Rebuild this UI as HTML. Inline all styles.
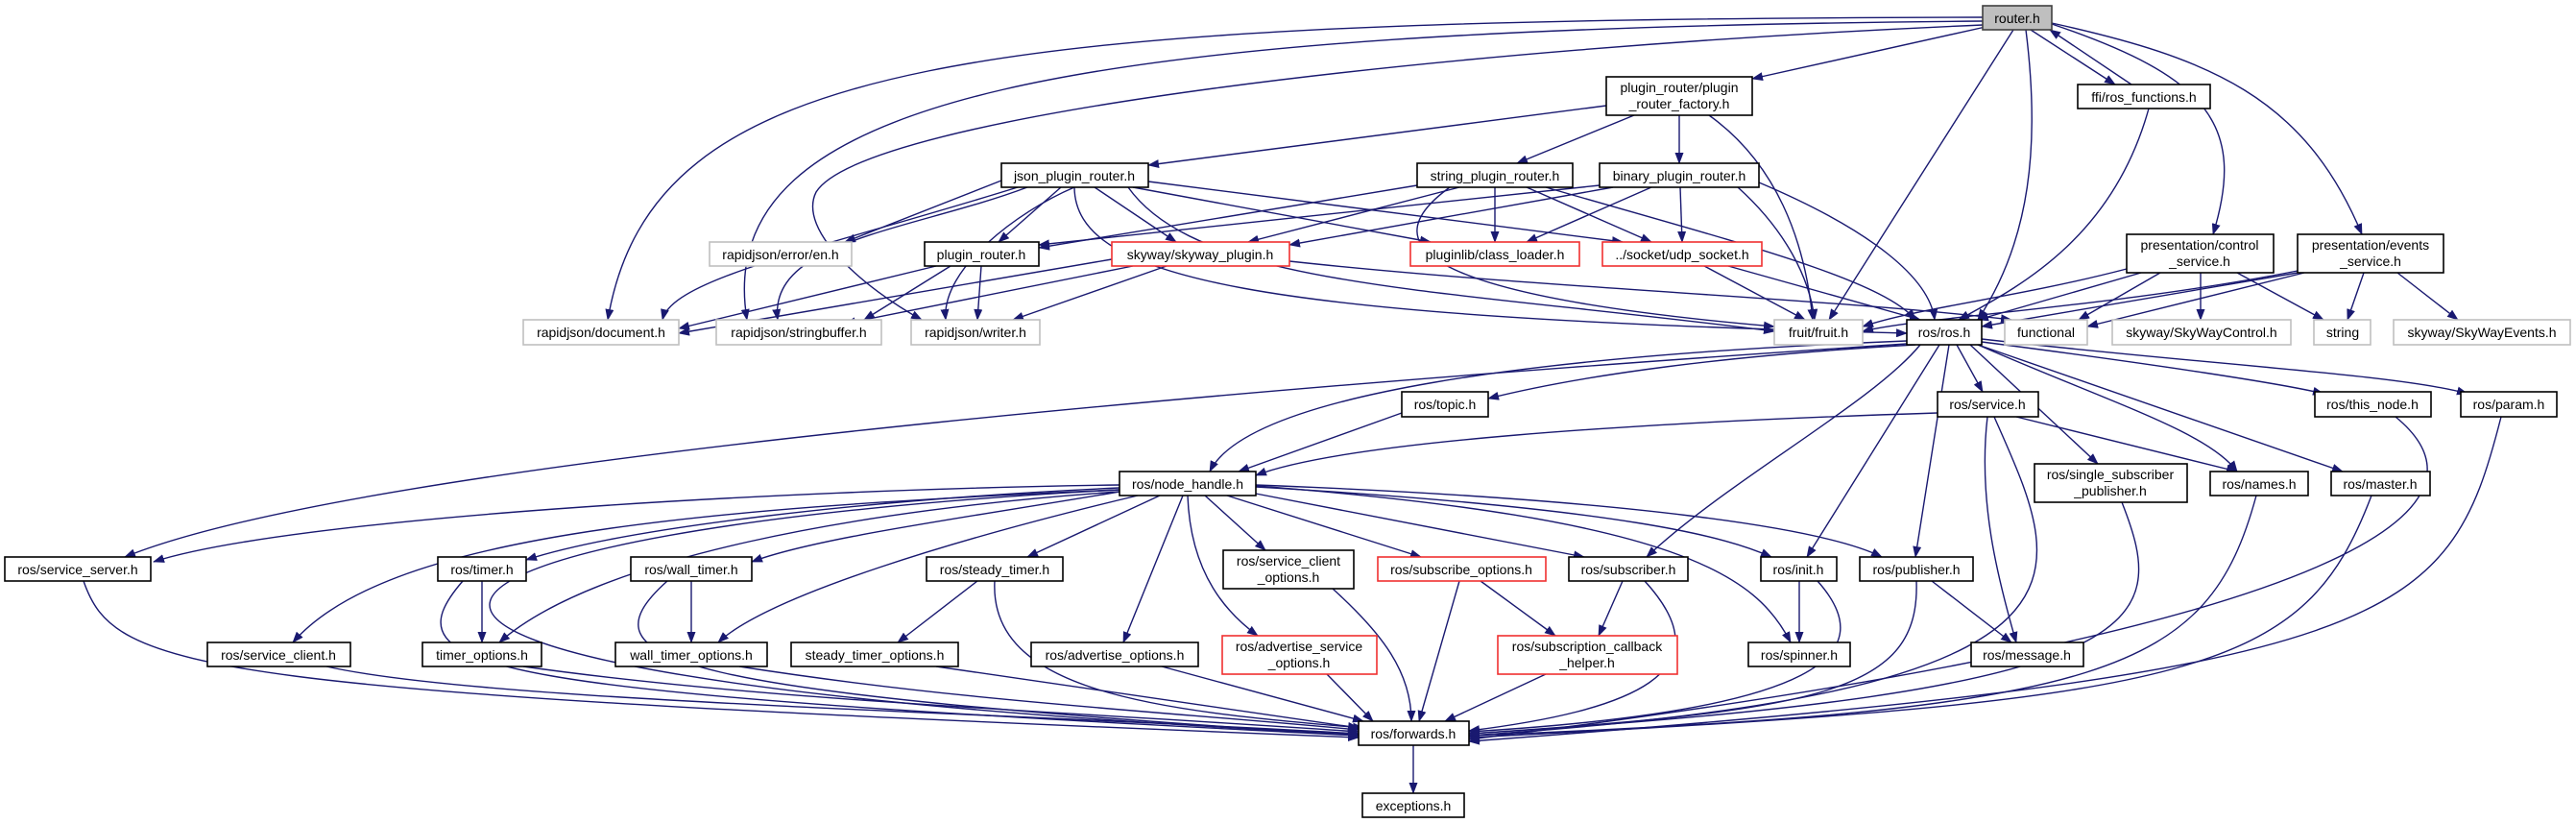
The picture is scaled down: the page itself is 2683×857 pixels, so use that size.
<!DOCTYPE html>
<html><head><meta charset="utf-8"><style>
html,body{margin:0;padding:0;background:#fff;}
svg{display:block;}
text{font-family:"Liberation Sans",sans-serif;font-size:14px;fill:#000;}
.e{fill:none;stroke:#191970;stroke-width:1.4;marker-end:url(#a);}
.n{fill:#fff;stroke:#000;stroke-width:1.6;}
.r{fill:#fff;stroke:#f03030;stroke-width:1.6;}
.g{fill:#fff;stroke:#bfbfbf;stroke-width:1.6;}
</style></head><body>
<svg width="2683" height="857" viewBox="0 0 2683 857" xmlns="http://www.w3.org/2000/svg">
<defs><marker id="a" markerUnits="userSpaceOnUse" markerWidth="12" markerHeight="9" refX="11" refY="4.5" orient="auto"><path d="M0,0 L12,4.5 L0,9 z" fill="#191970"/></marker></defs>
<g>
<path class="e" d="M2065 18 C1000 20, 680 60, 633 333"/>
<path class="e" d="M2065 22 C1100 30, 740 100, 778 333"/>
<path class="e" d="M2065 26 C1500 50, 900 120, 850 200 C830 240, 900 300, 960 333"/>
<path class="e" d="M2068 28 L1825 82"/>
<path class="e" d="M2097 31 L1905 333"/>
<path class="e" d="M2110 31 C2125 150, 2115 250, 2060 333"/>
<path class="e" d="M2115 31 L2203 88"/>
<path class="e" d="M2220 88 L2135 31"/>
<path class="e" d="M2137 25 C2300 80, 2340 130, 2305 244"/>
<path class="e" d="M2137 24 C2300 60, 2400 100, 2460 244"/>
<path class="e" d="M1673 110 L1196 172"/>
<path class="e" d="M1702 120 L1580 170"/>
<path class="e" d="M1749 120 L1749 170"/>
<path class="e" d="M1780 120 C1850 170, 1880 250, 1888 333"/>
<path class="e" d="M1060 195 C850 260, 700 290, 690 333"/>
<path class="e" d="M1070 195 C950 240, 800 250, 810 333"/>
<path class="e" d="M1119 195 C1060 220, 980 280, 985 333"/>
<path class="e" d="M1043 188 L880 252"/>
<path class="e" d="M1105 195 L1040 252"/>
<path class="e" d="M1140 195 L1225 252"/>
<path class="e" d="M1180 195 L1490 252"/>
<path class="e" d="M1196 189 L1690 252"/>
<path class="e" d="M1175 195 C1250 300, 1500 300, 1848 345"/>
<path class="e" d="M1119 195 C1120 290, 1300 330, 1986 347"/>
<path class="e" d="M1476 193 L1082 258"/>
<path class="e" d="M1520 195 L1300 252"/>
<path class="e" d="M1557 195 L1557 252"/>
<path class="e" d="M1590 195 L1720 252"/>
<path class="e" d="M1510 195 C1420 260, 1500 310, 1848 340"/>
<path class="e" d="M1610 195 C1800 250, 1960 290, 1995 333"/>
<path class="e" d="M1666 193 L1082 255"/>
<path class="e" d="M1680 195 L1343 255"/>
<path class="e" d="M1720 195 L1590 252"/>
<path class="e" d="M1750 195 L1752 252"/>
<path class="e" d="M1810 195 C1860 240, 1885 290, 1890 333"/>
<path class="e" d="M1832 190 C1950 240, 2010 290, 2015 333"/>
<path class="e" d="M975 277 L707 342"/>
<path class="e" d="M990 277 L900 333"/>
<path class="e" d="M1022 277 L1018 333"/>
<path class="e" d="M1158 270 L707 347"/>
<path class="e" d="M1180 277 L880 337"/>
<path class="e" d="M1215 277 L1055 333"/>
<path class="e" d="M1343 272 C1600 300, 1900 310, 2095 333"/>
<path class="e" d="M1775 277 L1880 333"/>
<path class="e" d="M1800 277 L2000 333"/>
<path class="e" d="M2238 113 C2200 250, 2100 300, 2040 333"/>
<path class="e" d="M2215 280 C2100 310, 2000 320, 1940 340"/>
<path class="e" d="M2230 284 L2060 333"/>
<path class="e" d="M2250 284 L2165 333"/>
<path class="e" d="M2292 284 L2292 333"/>
<path class="e" d="M2330 284 L2420 333"/>
<path class="e" d="M2393 282 C2200 320, 2000 330, 1940 345"/>
<path class="e" d="M2393 284 L2064 340"/>
<path class="e" d="M2400 284 L2174 340"/>
<path class="e" d="M2462 284 L2445 333"/>
<path class="e" d="M2497 284 L2560 333"/>
<path class="e" d="M1995 359 C1800 370, 1650 390, 1550 415"/>
<path class="e" d="M1986 355 C1600 370, 1300 410, 1260 491"/>
<path class="e" d="M1986 358 C1500 390, 400 470, 130 580"/>
<path class="e" d="M2038 359 L2065 408"/>
<path class="e" d="M2064 356 C2250 380, 2380 400, 2420 410"/>
<path class="e" d="M2064 353 C2300 380, 2500 390, 2570 410"/>
<path class="e" d="M2060 359 C2200 420, 2300 450, 2330 491"/>
<path class="e" d="M2060 359 L2440 491"/>
<path class="e" d="M2052 359 L2185 483"/>
<path class="e" d="M2020 359 L1882 580"/>
<path class="e" d="M2030 359 L1995 580"/>
<path class="e" d="M2000 359 C1950 420, 1800 500, 1715 580"/>
<path class="e" d="M1460 430 L1290 491"/>
<path class="e" d="M2018 430 C1700 440, 1400 460, 1308 495"/>
<path class="e" d="M2100 434 L2330 491"/>
<path class="e" d="M2070 434 C2060 520, 2080 600, 2100 669"/>
<path class="e" d="M2077 434 C2150 600, 2220 720, 1530 766"/>
<path class="e" d="M2495 434 C2600 520, 2500 650, 1530 770"/>
<path class="e" d="M2605 434 C2550 650, 2500 700, 1530 772"/>
<path class="e" d="M2350 516 C2300 700, 2200 740, 1530 766"/>
<path class="e" d="M2470 516 C2400 700, 2300 730, 1530 768"/>
<path class="e" d="M2210 523 C2260 650, 2250 720, 1530 764"/>
<path class="e" d="M1166 505 C800 510, 300 540, 160 585"/>
<path class="e" d="M1166 508 C900 520, 650 550, 548 583"/>
<path class="e" d="M1166 512 C1000 540, 850 560, 783 585"/>
<path class="e" d="M1166 512 C900 530, 620 580, 520 669"/>
<path class="e" d="M1185 516 C1000 560, 800 620, 748 669"/>
<path class="e" d="M1166 510 C700 530, 400 560, 305 669"/>
<path class="e" d="M1208 516 L1070 580"/>
<path class="e" d="M1232 516 L1170 669"/>
<path class="e" d="M1237 516 C1240 600, 1280 640, 1310 662"/>
<path class="e" d="M1255 516 L1318 573"/>
<path class="e" d="M1278 516 L1480 580"/>
<path class="e" d="M1308 514 L1650 580"/>
<path class="e" d="M1308 507 C1700 530, 1800 560, 1845 580"/>
<path class="e" d="M1308 506 C1750 540, 1830 600, 1865 669"/>
<path class="e" d="M1308 505 C1700 520, 1900 550, 1960 580"/>
<path class="e" d="M1166 510 C400 550, 100 700, 1415 765"/>
<path class="e" d="M502 605 L502 669"/>
<path class="e" d="M482 605 C400 700, 500 720, 1415 766"/>
<path class="e" d="M720 605 L720 669"/>
<path class="e" d="M695 605 C600 690, 700 720, 1415 766"/>
<path class="e" d="M1018 605 L935 669"/>
<path class="e" d="M1036 605 C1030 720, 1200 740, 1420 758"/>
<path class="e" d="M87 605 C120 700, 200 720, 1415 768"/>
<path class="e" d="M340 694 C500 730, 1000 740, 1415 764"/>
<path class="e" d="M545 694 C800 730, 1100 740, 1415 762"/>
<path class="e" d="M770 694 C1000 730, 1200 740, 1415 760"/>
<path class="e" d="M975 694 L1415 758"/>
<path class="e" d="M1210 694 L1420 751"/>
<path class="e" d="M1382 702 L1430 751"/>
<path class="e" d="M1388 613 C1440 660, 1470 700, 1470 751"/>
<path class="e" d="M1520 605 L1478 751"/>
<path class="e" d="M1542 605 L1620 662"/>
<path class="e" d="M1690 605 L1665 662"/>
<path class="e" d="M1713 605 C1800 700, 1700 740, 1530 761"/>
<path class="e" d="M1610 702 L1505 751"/>
<path class="e" d="M1874 605 L1874 669"/>
<path class="e" d="M1893 605 C1960 680, 1900 740, 1530 762"/>
<path class="e" d="M2012 605 L2095 669"/>
<path class="e" d="M1996 605 C2000 720, 1900 740, 1530 764"/>
<path class="e" d="M1472 776 L1472 826"/>
</g>
<g>
<rect x="2065" y="6" width="72" height="25" fill="#bfbfbf" stroke="#404040" stroke-width="1.6"/><text x="2101" y="24" text-anchor="middle">router.h</text>
<rect class="n" x="2164" y="88" width="138" height="25"/><text x="2233" y="106" text-anchor="middle">ffi/ros_functions.h</text>
<rect class="n" x="1673" y="80" width="152" height="40"/><text x="1749" y="96" text-anchor="middle">plugin_router/plugin</text><text x="1749" y="113" text-anchor="middle">_router_factory.h</text>
<rect class="n" x="1043" y="170" width="153" height="25"/><text x="1119" y="188" text-anchor="middle">json_plugin_router.h</text>
<rect class="n" x="1476" y="170" width="162" height="25"/><text x="1557" y="188" text-anchor="middle">string_plugin_router.h</text>
<rect class="n" x="1666" y="170" width="166" height="25"/><text x="1749" y="188" text-anchor="middle">binary_plugin_router.h</text>
<rect class="g" x="739" y="252" width="148" height="25"/><text x="813" y="270" text-anchor="middle">rapidjson/error/en.h</text>
<rect class="n" x="963" y="252" width="119" height="25"/><text x="1022" y="270" text-anchor="middle">plugin_router.h</text>
<rect class="r" x="1158" y="252" width="185" height="25"/><text x="1250" y="270" text-anchor="middle">skyway/skyway_plugin.h</text>
<rect class="r" x="1469" y="252" width="176" height="25"/><text x="1557" y="270" text-anchor="middle">pluginlib/class_loader.h</text>
<rect class="r" x="1669" y="252" width="166" height="25"/><text x="1752" y="270" text-anchor="middle">../socket/udp_socket.h</text>
<rect class="n" x="2215" y="244" width="153" height="40"/><text x="2291" y="260" text-anchor="middle">presentation/control</text><text x="2291" y="277" text-anchor="middle">_service.h</text>
<rect class="n" x="2393" y="244" width="152" height="40"/><text x="2469" y="260" text-anchor="middle">presentation/events</text><text x="2469" y="277" text-anchor="middle">_service.h</text>
<rect class="g" x="545" y="333" width="162" height="26"/><text x="626" y="351" text-anchor="middle">rapidjson/document.h</text>
<rect class="g" x="746" y="333" width="172" height="26"/><text x="832" y="351" text-anchor="middle">rapidjson/stringbuffer.h</text>
<rect class="g" x="949" y="333" width="134" height="26"/><text x="1016" y="351" text-anchor="middle">rapidjson/writer.h</text>
<rect class="g" x="1848" y="333" width="92" height="26"/><text x="1894" y="351" text-anchor="middle">fruit/fruit.h</text>
<rect class="n" x="1986" y="333" width="78" height="26"/><text x="2025" y="351" text-anchor="middle">ros/ros.h</text>
<rect class="g" x="2088" y="333" width="86" height="26"/><text x="2131" y="351" text-anchor="middle">functional</text>
<rect class="g" x="2200" y="333" width="186" height="26"/><text x="2293" y="351" text-anchor="middle">skyway/SkyWayControl.h</text>
<rect class="g" x="2410" y="333" width="59" height="26"/><text x="2440" y="351" text-anchor="middle">string</text>
<rect class="g" x="2493" y="333" width="184" height="26"/><text x="2585" y="351" text-anchor="middle">skyway/SkyWayEvents.h</text>
<rect class="n" x="1460" y="408" width="90" height="26"/><text x="1505" y="426" text-anchor="middle">ros/topic.h</text>
<rect class="n" x="2018" y="408" width="105" height="26"/><text x="2070" y="426" text-anchor="middle">ros/service.h</text>
<rect class="n" x="2411" y="408" width="121" height="26"/><text x="2471" y="426" text-anchor="middle">ros/this_node.h</text>
<rect class="n" x="2563" y="408" width="100" height="26"/><text x="2613" y="426" text-anchor="middle">ros/param.h</text>
<rect class="n" x="1166" y="491" width="142" height="25"/><text x="1237" y="509" text-anchor="middle">ros/node_handle.h</text>
<rect class="n" x="2119" y="483" width="159" height="40"/><text x="2198" y="499" text-anchor="middle">ros/single_subscriber</text><text x="2198" y="516" text-anchor="middle">_publisher.h</text>
<rect class="n" x="2302" y="491" width="102" height="25"/><text x="2353" y="509" text-anchor="middle">ros/names.h</text>
<rect class="n" x="2428" y="491" width="103" height="25"/><text x="2479" y="509" text-anchor="middle">ros/master.h</text>
<rect class="n" x="5" y="580" width="152" height="25"/><text x="81" y="598" text-anchor="middle">ros/service_server.h</text>
<rect class="n" x="456" y="580" width="92" height="25"/><text x="502" y="598" text-anchor="middle">ros/timer.h</text>
<rect class="n" x="657" y="580" width="126" height="25"/><text x="720" y="598" text-anchor="middle">ros/wall_timer.h</text>
<rect class="n" x="965" y="580" width="142" height="25"/><text x="1036" y="598" text-anchor="middle">ros/steady_timer.h</text>
<rect class="n" x="1274" y="573" width="136" height="40"/><text x="1342" y="589" text-anchor="middle">ros/service_client</text><text x="1342" y="606" text-anchor="middle">_options.h</text>
<rect class="r" x="1435" y="580" width="175" height="25"/><text x="1522" y="598" text-anchor="middle">ros/subscribe_options.h</text>
<rect class="n" x="1634" y="580" width="124" height="25"/><text x="1696" y="598" text-anchor="middle">ros/subscriber.h</text>
<rect class="n" x="1834" y="580" width="79" height="25"/><text x="1873" y="598" text-anchor="middle">ros/init.h</text>
<rect class="n" x="1937" y="580" width="118" height="25"/><text x="1996" y="598" text-anchor="middle">ros/publisher.h</text>
<rect class="n" x="216" y="669" width="149" height="25"/><text x="290" y="687" text-anchor="middle">ros/service_client.h</text>
<rect class="n" x="440" y="669" width="124" height="25"/><text x="502" y="687" text-anchor="middle">timer_options.h</text>
<rect class="n" x="641" y="669" width="158" height="25"/><text x="720" y="687" text-anchor="middle">wall_timer_options.h</text>
<rect class="n" x="824" y="669" width="174" height="25"/><text x="911" y="687" text-anchor="middle">steady_timer_options.h</text>
<rect class="n" x="1074" y="669" width="174" height="25"/><text x="1161" y="687" text-anchor="middle">ros/advertise_options.h</text>
<rect class="r" x="1273" y="662" width="161" height="40"/><text x="1353" y="678" text-anchor="middle">ros/advertise_service</text><text x="1353" y="695" text-anchor="middle">_options.h</text>
<rect class="r" x="1560" y="662" width="187" height="40"/><text x="1653" y="678" text-anchor="middle">ros/subscription_callback</text><text x="1653" y="695" text-anchor="middle">_helper.h</text>
<rect class="n" x="1821" y="669" width="106" height="25"/><text x="1874" y="687" text-anchor="middle">ros/spinner.h</text>
<rect class="n" x="2053" y="669" width="117" height="25"/><text x="2111" y="687" text-anchor="middle">ros/message.h</text>
<rect class="n" x="1415" y="751" width="115" height="25"/><text x="1472" y="769" text-anchor="middle">ros/forwards.h</text>
<rect class="n" x="1419" y="826" width="106" height="25"/><text x="1472" y="844" text-anchor="middle">exceptions.h</text>
</g>
</svg>
</body></html>
